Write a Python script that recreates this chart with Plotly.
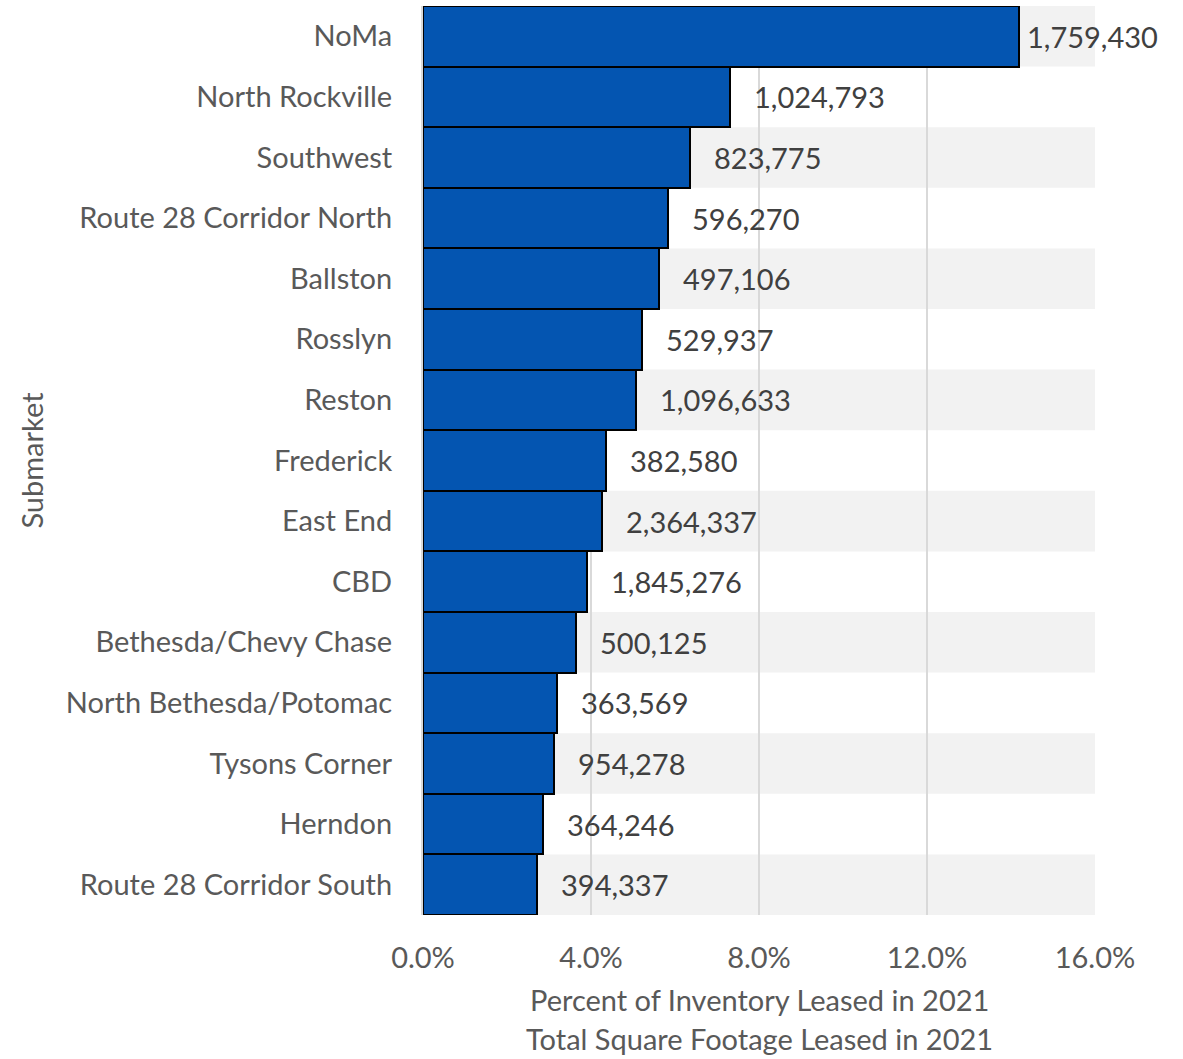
import plotly.graph_objects as go

# Submarkets ranked by share of inventory leased in 2021
submarkets = [
    "NoMa", "North Rockville", "Southwest", "Route 28 Corridor North", "Ballston",
    "Rosslyn", "Reston", "Frederick", "East End", "CBD", "Bethesda/Chevy Chase",
    "North Bethesda/Potomac", "Tysons Corner", "Herndon", "Route 28 Corridor South",
]
pct_leased = [14.2, 7.3, 6.35, 5.83, 5.62, 5.21, 5.07, 4.36, 4.26, 3.9, 3.64, 3.19, 3.12, 2.86, 2.71]
sqft_leased = [1759430, 1024793, 823775, 596270, 497106, 529937, 1096633, 382580,
               2364337, 1845276, 500125, 363569, 954278, 364246, 394337]
x_ticks = [0, 4, 8, 12, 16]
x_tick_text = ["0.0%", "4.0%", "8.0%", "12.0%", "16.0%"]

FONT = "Lato"
FS = 29
AXIS_GREY = "#595959"
LABEL_GREY = "#404040"

fig = go.Figure()
fig.add_trace(go.Bar(
    x=pct_leased,
    y=submarkets,
    orientation="h",
    width=1.0,
    marker=dict(color="#0455B1", line=dict(color="#000000", width=2)),
    hoverinfo="skip",
))

# Alternating row bands behind the bars
for i in range(0, len(submarkets), 2):
    fig.add_shape(type="rect", xref="x", yref="y", x0=0, x1=16,
                  y0=i - 0.5, y1=i + 0.5, fillcolor="#F2F2F2",
                  line=dict(width=0), layer="below")

# Square-footage labels to the right of each bar
for i, (name, p, s) in enumerate(zip(submarkets, pct_leased, sqft_leased)):
    fig.add_annotation(x=p, y=name, xref="x", yref="y", text=f"{s:,}",
                       showarrow=False, xanchor="left",
                       xshift=6 if i == 0 else 22,
                       font=dict(family=FONT, size=FS, color=LABEL_GREY))

# Two-line horizontal axis title
for line, yy in [("Percent of Inventory Leased in 2021", -0.0925),
                 ("Total Square Footage Leased in 2021", -0.1355)]:
    fig.add_annotation(x=0.5, y=yy, xref="paper", yref="paper", text=line,
                       showarrow=False, xanchor="center", yanchor="middle",
                       borderpad=0,
                       font=dict(family=FONT, size=FS, color=AXIS_GREY))

fig.update_layout(
    width=1183, height=1059,
    margin=dict(l=423, r=88, t=6, b=144),
    paper_bgcolor="white", plot_bgcolor="white",
    showlegend=False,
    font=dict(family=FONT, size=FS, color=AXIS_GREY),
    bargap=0,
)
fig.update_xaxes(
    range=[0, 16], tickvals=x_ticks, ticktext=x_tick_text,
    showgrid=True, gridcolor="#D9D9D9", gridwidth=2, zeroline=False,
    ticks="outside", ticklen=17, tickcolor="rgba(0,0,0,0)",
    tickfont=dict(family=FONT, size=FS, color=AXIS_GREY),
    showline=False, fixedrange=True,
)
fig.update_yaxes(
    autorange="reversed", showgrid=False, zeroline=False,
    ticks="outside", ticklen=23, tickcolor="rgba(0,0,0,0)",
    tickfont=dict(family=FONT, size=FS, color=AXIS_GREY),
    showline=True, linecolor="#D9D9D9", linewidth=2,
    title=dict(text="Submarket", standoff=14,
               font=dict(family=FONT, size=FS, color=AXIS_GREY)),
    fixedrange=True,
)

fig.write_html("out.html")
